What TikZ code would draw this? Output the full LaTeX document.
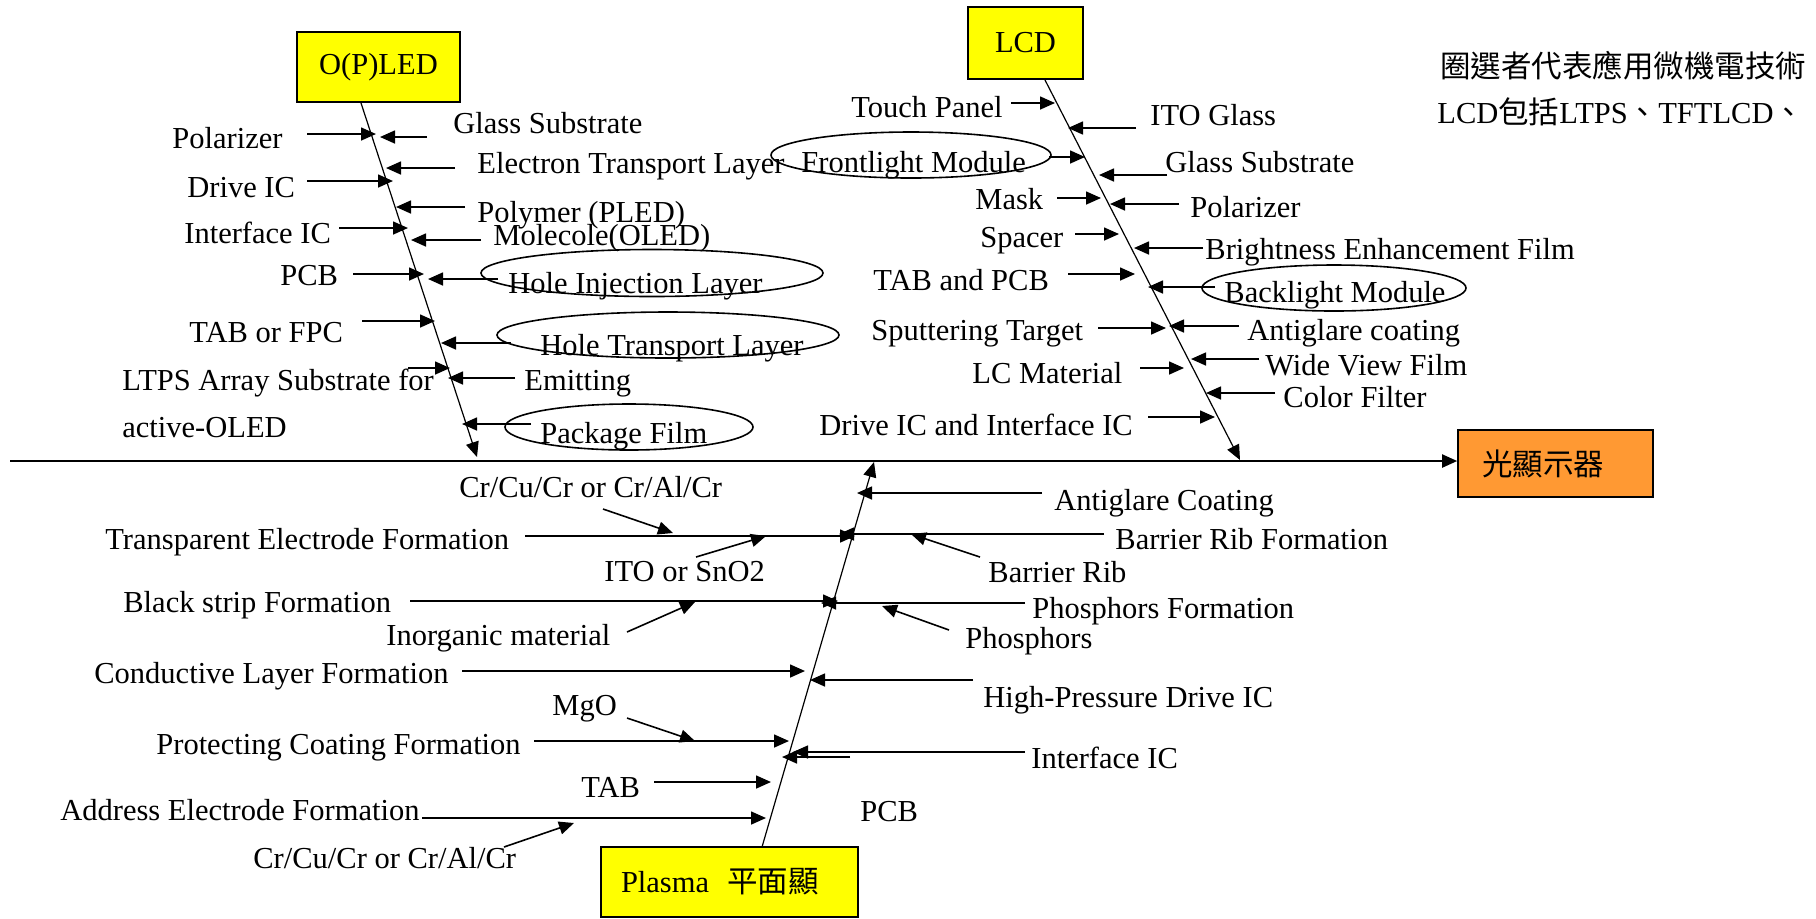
\documentclass[tikz,border=0pt]{standalone}
\usepackage{fontspec}
\setmainfont{Liberation Serif}
\newfontfamily\cjk{Noto Sans CJK TC}
\usetikzlibrary{arrows.meta}
\definecolor{headyellow}{HTML}{FFFF00}
\definecolor{outorange}{HTML}{FF9933}
\begin{document}
\begin{tikzpicture}[
  x=0.5pt, y=-0.5pt,
  every node/.style={font=\fontsize{15.25}{18}\selectfont, inner sep=0pt},
  lab/.style={anchor=base west},
  head/.style={draw, line width=0.8pt, fill=headyellow, minimum height=35pt},
  arr/.style={line width=0.8pt, -{Triangle[length=7.5pt,width=6.5pt]}},
  spine/.style={line width=0.6pt, -{Triangle[length=7.5pt,width=6.5pt]}},
  oval/.style={line width=0.8pt}
]
\useasboundingbox (0,0) rectangle (1816,918);

% heads
\node[head, minimum width=81.5pt] (oled) at (378.5,67) {O(P)LED};
\node[head, minimum width=57.5pt, minimum height=36pt] (lcd) at (1025.5,43) {LCD};
\node[head, text width=108.5pt, inner xsep=10pt, align=left] (plasma) at (729.5,882)
  {Plasma\hspace{0.6em}{\cjk 平面顯}};
\node[draw, line width=0.8pt, fill=outorange, minimum height=33.5pt,
  text width=73.5pt, inner xsep=12pt, align=left] (out) at (1555.5,463.5) {\cjk 光顯示器};

% main line and spines
\coordinate (m0) at (10,461);
\draw[arr, line width=1pt] (m0) -- (m0 -| out.west);
\coordinate (ot) at (361,103);  \coordinate (ob) at (477,457);
\coordinate (lt) at (1045,80);  \coordinate (lb) at (1240,460);
\coordinate (pb) at (762,847);  \coordinate (pt) at (874,462);
\draw[spine] (ot) -- (ob);
\draw[spine] (lt) -- (lb);
\draw[spine] (pb) -- (pt);

% O(P)LED, left
\foreach \t/\lx/\ly/\ay/\ax/\bx [count=\i] in {
  Polarizer/172/148/134/307/376, Drive IC/187/197/181/307/393,
  Interface IC/184/243/228/339/408, PCB/280/285/274/353/424,
  TAB or FPC/189/342/321/362/435, LTPS Array Substrate for/122/390/368/408/450}
{
  \node[lab] (ol\i) at (\lx,\ly) {\t};
  \coordinate (olt\i) at (\ax,\ay); \coordinate (olh\i) at (\bx,\ay);
  \draw[arr] (olt\i) -- (olh\i);
}
\node[lab] (ol7) at (122,437) {active-OLED};

% O(P)LED, right
\foreach \t/\lx/\ly/\ay/\ax/\bx [count=\i] in {
  Glass Substrate/453/133/137/427/380, Electron Transport Layer/477/173/168/455/386,
  Polymer (PLED)/477/222/207/465/396, Molecole(OLED)/493/245/240/481/411,
  Hole Injection Layer/508/293/279/498/428, Hole Transport Layer/540/355/343/511/441,
  Emitting/524/390/378/515/448, Package Film/540/443/424/531/462}
{
  \node[lab] (or\i) at (\lx,\ly) {\t};
  \coordinate (ort\i) at (\ax,\ay); \coordinate (orh\i) at (\bx,\ay);
  \draw[arr] (ort\i) -- (orh\i);
}

% LCD, left
\foreach \t/\lx/\ly/\ay/\ax/\bx [count=\i] in {
  Touch Panel/851/117/103/1011/1055, Frontlight Module/801/172/157/1049/1085,
  Mask/975/209/198/1057/1101, Spacer/980/247/234/1075/1119,
  TAB and PCB/873/290/274/1068/1135, Sputtering Target/871/340/328/1098/1166,
  LC Material/972/383/368/1140/1184, Drive IC and Interface IC/819/435/417/1148/1215}
{
  \node[lab] (ll\i) at (\lx,\ly) {\t};
  \coordinate (llt\i) at (\ax,\ay); \coordinate (llh\i) at (\bx,\ay);
  \draw[arr] (llt\i) -- (llh\i);
}

% LCD, right
\foreach \t/\lx/\ly/\ay/\ax/\bx [count=\i] in {
  ITO Glass/1150/125/128/1136/1068, Glass Substrate/1165/172/175/1167/1099,
  Polarizer/1190/217/204/1179/1110, Brightness Enhancement Film/1205/259/248/1203/1134,
  Backlight Module/1224/302/287/1215/1148, Antiglare coating/1247/340/326/1239/1169,
  Wide View Film/1265/375/359/1259/1191, Color Filter/1283/407/393/1275/1206}
{
  \node[lab] (lr\i) at (\lx,\ly) {\t};
  \coordinate (lrt\i) at (\ax,\ay); \coordinate (lrh\i) at (\bx,\ay);
  \draw[arr] (lrt\i) -- (lrh\i);
}

% circled items
\draw[oval] (911,155) ellipse [x radius=140, y radius=23];
\draw[oval] (652,273) ellipse [x radius=171, y radius=23.5];
\draw[oval] (668,335) ellipse [x radius=171, y radius=23];
\draw[oval] (629,427) ellipse [x radius=124, y radius=23];
\draw[oval] (1334,288) ellipse [x radius=132, y radius=23];

% Plasma, left and right
\foreach \t/\lx/\ly/\ay/\ax/\bx [count=\i] in {
  Transparent Electrode Formation/105/549/536/525/855,
  Black strip Formation/123/612/601/410/838,
  Conductive Layer Formation/94/683/671/462/805,
  Protecting Coating Formation/156/754/741/534/789,
  TAB/581/797/782/654/771,
  Address Electrode Formation/60/820/818/422/766,
  Antiglare Coating/1054/510/493/1042/857,
  Barrier Rib Formation/1115/549/534/1104/839,
  Phosphors Formation/1032/618/603/1025/821,
  High-Pressure Drive IC/983/707/680/973/810,
  Interface IC/1031/768/752/1025/793}
{
  \node[lab] (pl\i) at (\lx,\ly) {\t};
  \coordinate (plt\i) at (\ax,\ay); \coordinate (plh\i) at (\bx,\ay);
  \draw[arr] (plt\i) -- (plh\i);
}
\coordinate (ict) at (850,757); \coordinate (ich) at (782,757);
\draw[arr] (ict) -- (ich);
\node[lab] (pcb) at (860,821) {PCB};

% Plasma, materials
\foreach \t/\lx/\ly/\xa/\ya/\xb/\yb [count=\i] in {
  {Cr/Cu/Cr or Cr/Al/Cr}/459/497/603/509/673/533,
  ITO or SnO2/604/581/696/557/766/536,
  Inorganic material/386/645/627/632/695/602,
  MgO/552/715/627/718/695/741,
  {Cr/Cu/Cr or Cr/Al/Cr}/253/868/504/847/574/823,
  Barrier Rib/988/582/980/557/911/534,
  Phosphors/965/648/949/630/882/606}
{
  \node[lab] (pm\i) at (\lx,\ly) {\t};
  \coordinate (pmt\i) at (\xa,\ya); \coordinate (pmh\i) at (\xb,\yb);
  \draw[arr] (pmt\i) -- (pmh\i);
}

% note
\node[lab] (note1) at (1440,77) {\cjk 圈選者代表應用微機電技術};
\node[lab] (note2) at (1437,123) {LCD{\cjk 包括}LTPS{\cjk 、}TFTLCD{\cjk 、}};
\end{tikzpicture}
\end{document}
